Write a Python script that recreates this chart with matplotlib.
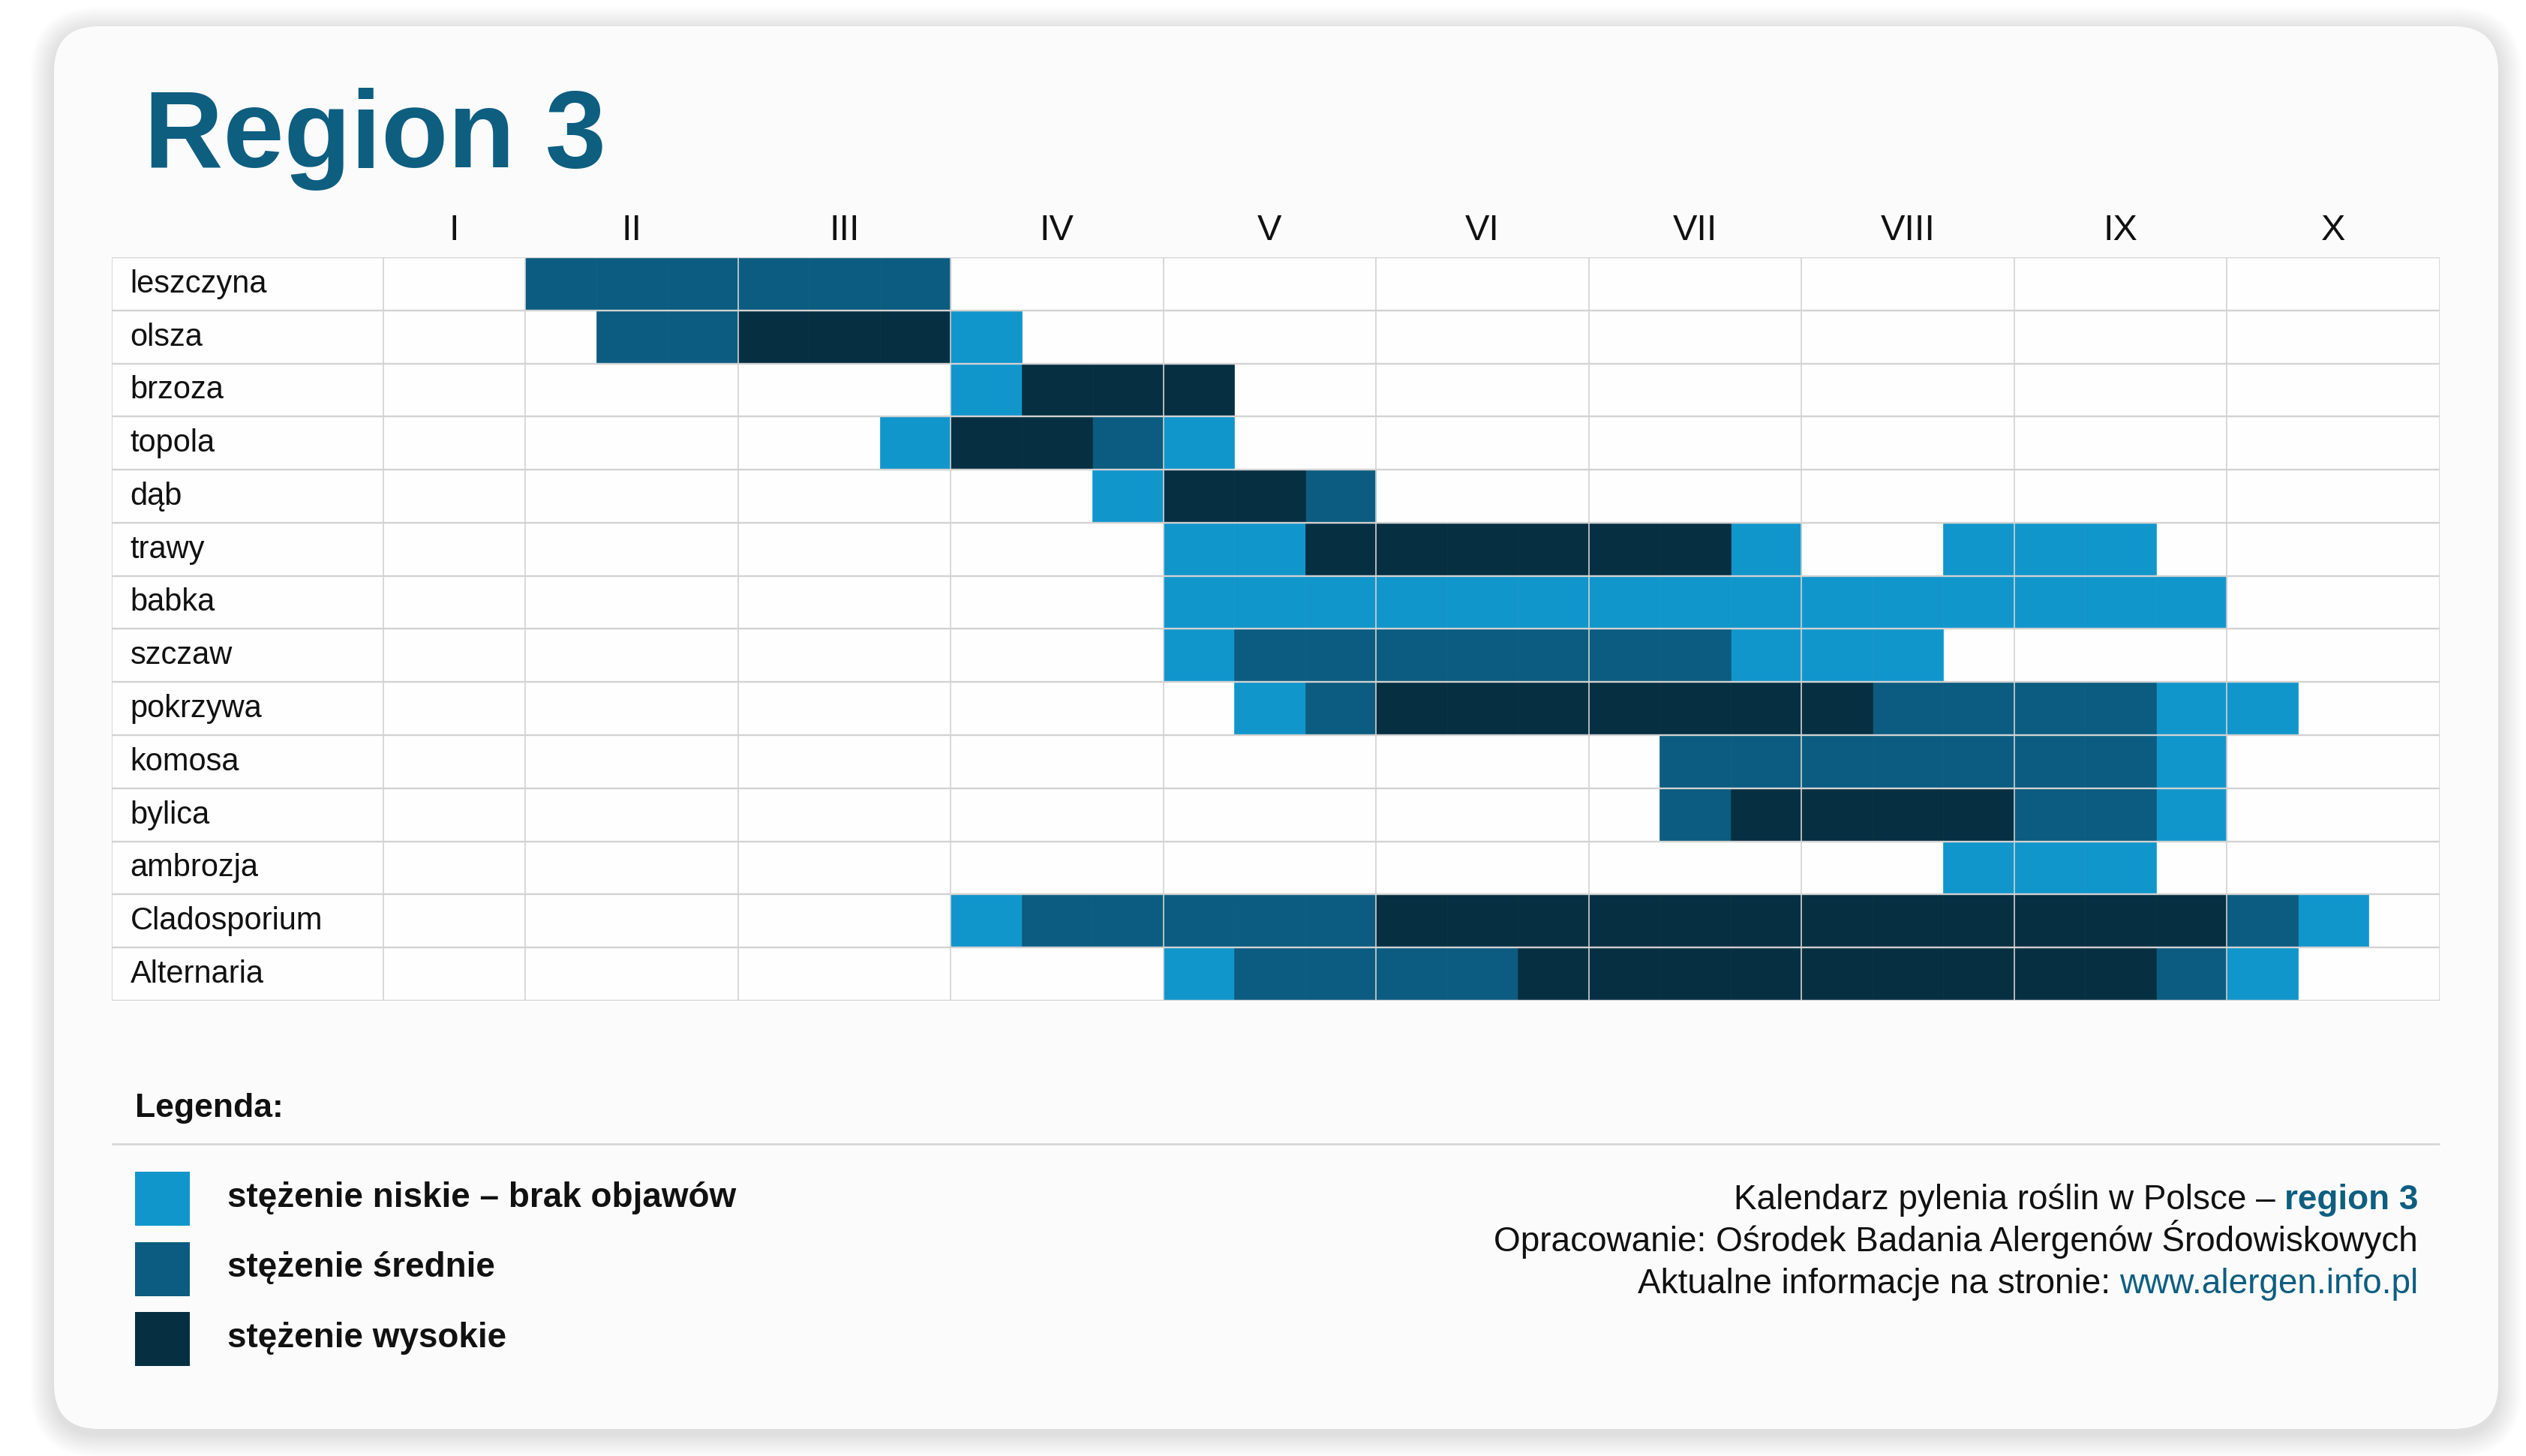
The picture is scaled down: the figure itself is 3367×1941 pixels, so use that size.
import matplotlib
matplotlib.use("Agg")
import matplotlib.pyplot as plt
from matplotlib.patches import FancyBboxPatch, Rectangle

plt.rcParams['font.family'] = ['Liberation Sans', 'DejaVu Sans']

W, H, DPI = 3367, 1941, 100

# -----------------------------
# Data
# -----------------------------
months = ["I", "II", "III", "IV", "V", "VI", "VII", "VIII", "IX", "X"]
decades_per_month = [2, 3, 3, 3, 3, 3, 3, 3, 3, 3]  # 10-day periods shown per month

plants = ["leszczyna", "olsza", "brzoza", "topola", "dąb", "trawy", "babka",
          "szczaw", "pokrzywa", "komosa", "bylica", "ambrozja",
          "Cladosporium", "Alternaria"]

# 0 = brak, 1 = niskie, 2 = średnie, 3 = wysokie  (one value per 10-day period)
#            I    | II      | III     | IV      | V       | VI      | VII     | VIII    | IX      | X
leszczyna = [0, 0, 2, 2, 2, 2, 2, 2, 0, 0, 0, 0, 0, 0, 0, 0, 0, 0, 0, 0, 0, 0, 0, 0, 0, 0, 0, 0, 0]
olsza     = [0, 0, 0, 2, 2, 3, 3, 3, 1, 0, 0, 0, 0, 0, 0, 0, 0, 0, 0, 0, 0, 0, 0, 0, 0, 0, 0, 0, 0]
brzoza    = [0, 0, 0, 0, 0, 0, 0, 0, 1, 3, 3, 3, 0, 0, 0, 0, 0, 0, 0, 0, 0, 0, 0, 0, 0, 0, 0, 0, 0]
topola    = [0, 0, 0, 0, 0, 0, 0, 1, 3, 3, 2, 1, 0, 0, 0, 0, 0, 0, 0, 0, 0, 0, 0, 0, 0, 0, 0, 0, 0]
dab       = [0, 0, 0, 0, 0, 0, 0, 0, 0, 0, 1, 3, 3, 2, 0, 0, 0, 0, 0, 0, 0, 0, 0, 0, 0, 0, 0, 0, 0]
trawy     = [0, 0, 0, 0, 0, 0, 0, 0, 0, 0, 0, 1, 1, 3, 3, 3, 3, 3, 3, 1, 0, 0, 1, 1, 1, 0, 0, 0, 0]
babka     = [0, 0, 0, 0, 0, 0, 0, 0, 0, 0, 0, 1, 1, 1, 1, 1, 1, 1, 1, 1, 1, 1, 1, 1, 1, 1, 0, 0, 0]
szczaw    = [0, 0, 0, 0, 0, 0, 0, 0, 0, 0, 0, 1, 2, 2, 2, 2, 2, 2, 2, 1, 1, 1, 0, 0, 0, 0, 0, 0, 0]
pokrzywa  = [0, 0, 0, 0, 0, 0, 0, 0, 0, 0, 0, 0, 1, 2, 3, 3, 3, 3, 3, 3, 3, 2, 2, 2, 2, 1, 1, 0, 0]
komosa    = [0, 0, 0, 0, 0, 0, 0, 0, 0, 0, 0, 0, 0, 0, 0, 0, 0, 0, 2, 2, 2, 2, 2, 2, 2, 1, 0, 0, 0]
bylica    = [0, 0, 0, 0, 0, 0, 0, 0, 0, 0, 0, 0, 0, 0, 0, 0, 0, 0, 2, 3, 3, 3, 3, 2, 2, 1, 0, 0, 0]
ambrozja  = [0, 0, 0, 0, 0, 0, 0, 0, 0, 0, 0, 0, 0, 0, 0, 0, 0, 0, 0, 0, 0, 0, 1, 1, 1, 0, 0, 0, 0]
cladosp   = [0, 0, 0, 0, 0, 0, 0, 0, 1, 2, 2, 2, 2, 2, 3, 3, 3, 3, 3, 3, 3, 3, 3, 3, 3, 3, 2, 1, 0]
alternar  = [0, 0, 0, 0, 0, 0, 0, 0, 0, 0, 0, 1, 2, 2, 2, 2, 3, 3, 3, 3, 3, 3, 3, 3, 3, 2, 1, 0, 0]

levels = [leszczyna, olsza, brzoza, topola, dab, trawy, babka, szczaw,
          pokrzywa, komosa, bylica, ambrozja, cladosp, alternar]

level_names = ["stężenie niskie – brak objawów", "stężenie średnie", "stężenie wysokie"]
level_colors = ["#1196cc", "#0b5c80", "#062f42"]

title_color = "#0e5e80"
grid_color = "#d2d2d2"

# -----------------------------
# Figure + card background (pixel coordinates)
# -----------------------------
fig = plt.figure(figsize=(W / DPI, H / DPI), dpi=DPI, facecolor="white")
bg = fig.add_axes([0, 0, 1, 1])
bg.set_xlim(0, W)
bg.set_ylim(H, 0)
bg.axis("off")

card_x, card_y, card_w, card_h = 72, 35, 3258, 1870
for i in range(16):
    p = 2 + i * 2
    bg.add_patch(FancyBboxPatch((card_x, card_y + 6), card_w, card_h,
                                boxstyle=f"round,pad={p},rounding_size={60 + p}",
                                facecolor="black", edgecolor="none", alpha=0.007))
bg.add_patch(FancyBboxPatch((card_x, card_y), card_w, card_h,
                            boxstyle="round,pad=0,rounding_size=60",
                            facecolor="#fbfbfb", edgecolor="none"))

bg.text(192, 223, "Region 3", fontsize=105, fontweight="bold", color=title_color,
        ha="left", va="baseline")

# -----------------------------
# Calendar table
# -----------------------------
tbl_left, tbl_right, tbl_top, tbl_bottom = 149, 3252, 343, 1334
cal_left = 511
n_dec = sum(decades_per_month)
dec_px = (tbl_right - cal_left) / n_dec
label_w = (cal_left - tbl_left) / dec_px

ax = fig.add_axes([tbl_left / W, 1 - tbl_bottom / H,
                   (tbl_right - tbl_left) / W, (tbl_bottom - tbl_top) / H])
ax.set_xlim(-label_w, n_dec)
ax.set_ylim(len(plants), 0)
ax.set_facecolor("#fefefe")
for s in ax.spines.values():
    s.set_visible(False)
ax.set_xticks([])
ax.set_yticks([])

# coloured cells
for lvl in (1, 2, 3):
    ys, xs = [], []
    for r, row in enumerate(levels):
        for d, v in enumerate(row):
            if v == lvl:
                ys.append(r + 0.5)
                xs.append(d)
    ax.barh(ys, 1.0, left=xs, height=1.0, color=level_colors[lvl - 1],
            edgecolor=level_colors[lvl - 1], linewidth=0.5, zorder=2)

# grid
ax.hlines(range(len(plants) + 1), -label_w, n_dec, color=grid_color, lw=1.7, zorder=3)
bounds = [0]
for n in decades_per_month:
    bounds.append(bounds[-1] + n)
ax.vlines([-label_w] + bounds, 0, len(plants), color=grid_color, lw=1.2, zorder=3)

# month labels
for m, a, b in zip(months, bounds[:-1], bounds[1:]):
    ax.text((a + b) / 2, -0.325, m, ha="center", va="baseline", fontsize=35,
            color="#111111", clip_on=False)

# plant labels
for r, name in enumerate(plants):
    ax.text(-label_w + 0.26, r + 0.66, name, ha="left", va="baseline", fontsize=30,
            color="#111111", zorder=4)

# -----------------------------
# Legend
# -----------------------------
bg.text(180, 1489, "Legenda:", fontsize=32, fontweight="bold", ha="left", va="baseline",
        color="#111111")
bg.hlines(1525, 149, 3252, color="#d6d6d6", lw=2)

for i, (name, col) in enumerate(zip(level_names, level_colors)):
    top = 1562 + i * 93.5
    bg.add_patch(Rectangle((180, top), 73, 72, facecolor=col, edgecolor="none"))
    bg.text(303, top + 47, name, fontsize=33, fontweight="bold", ha="left",
            va="baseline", color="#111111")

# credits (right aligned)
right_x = 3223
t1 = bg.text(right_x, 1612, "region 3", fontsize=33, fontweight="bold", color=title_color,
             ha="right", va="baseline")
bg.annotate("Kalendarz pylenia roślin w Polsce –", xy=(0, 0), xycoords=t1,
            xytext=(-12, 0), textcoords="offset pixels",
            ha="right", va="bottom", fontsize=33, color="#111111")
bg.text(right_x, 1668, "Opracowanie: Ośrodek Badania Alergenów Środowiskowych",
        fontsize=33, ha="right", va="baseline", color="#111111")
t3 = bg.text(right_x, 1724, "www.alergen.info.pl", fontsize=33, color=title_color,
             ha="right", va="baseline")
bg.annotate("Aktualne informacje na stronie:", xy=(0, 0), xycoords=t3,
            xytext=(-12, 0), textcoords="offset pixels",
            ha="right", va="bottom", fontsize=33, color="#111111")

fig.savefig("out.png", dpi=DPI, facecolor="white")
